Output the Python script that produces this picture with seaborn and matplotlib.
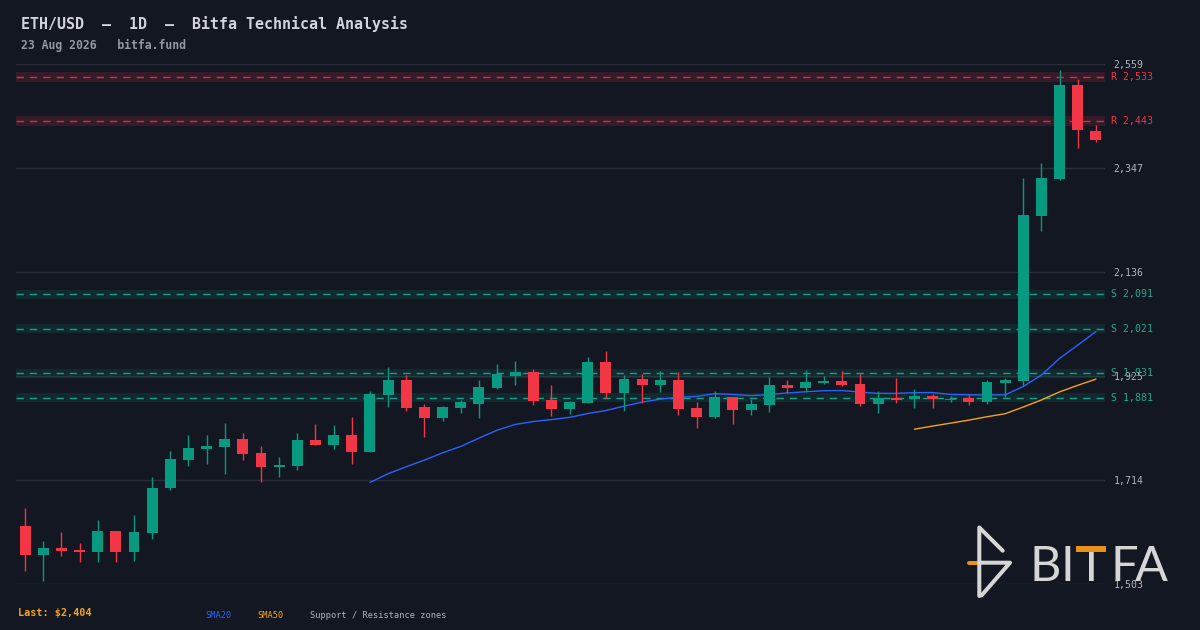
import numpy as np
import pandas as pd
import matplotlib
matplotlib.use("Agg")
import matplotlib.pyplot as plt
from matplotlib.lines import Line2D
from matplotlib.patches import Rectangle
import seaborn as sns

# ---------------- data ----------------
opens = [1621, 1562, 1576, 1572, 1569, 1611, 1569, 1607, 1697, 1755,
         1778, 1782, 1797, 1769, 1741, 1743, 1795, 1786, 1806, 1772,
         1887, 1917, 1862, 1841, 1861, 1869, 1902, 1926, 1934, 1877,
         1859, 1871, 1954, 1890, 1919, 1908, 1917, 1860, 1843, 1883,
         1857, 1867, 1907, 1902, 1911, 1915, 1909, 1869, 1881, 1878,
         1885, 1877, 1881, 1873, 1911, 1916, 2251, 2326, 2516, 2423]
highs = [1657, 1590, 1609, 1586, 1633, 1611, 1643, 1720, 1773, 1806,
         1806, 1830, 1810, 1783, 1761, 1810, 1828, 1826, 1842, 1894,
         1944, 1927, 1868, 1865, 1877, 1917, 1950, 1956, 1940, 1907,
         1875, 1964, 1976, 1927, 1930, 1936, 1934, 1873, 1895, 1883,
         1879, 1923, 1917, 1938, 1925, 1936, 1930, 1895, 1921, 1899,
         1889, 1885, 1889, 1917, 1921, 2328, 2358, 2547, 2529, 2435]
lows = [1530, 1510, 1560, 1548, 1548, 1548, 1550, 1595, 1693, 1743,
        1747, 1727, 1755, 1711, 1720, 1735, 1786, 1778, 1747, 1772,
        1863, 1855, 1802, 1835, 1851, 1841, 1900, 1908, 1867, 1845,
        1849, 1871, 1881, 1855, 1871, 1892, 1847, 1820, 1841, 1827,
        1847, 1853, 1890, 1892, 1909, 1906, 1865, 1851, 1871, 1861,
        1861, 1873, 1867, 1869, 1883, 1905, 2220, 2324, 2389, 2401]
closes = [1562, 1576, 1571, 1568, 1611, 1569, 1609, 1698, 1757, 1779,
          1783, 1797, 1768, 1741, 1745, 1795, 1786, 1806, 1772, 1889,
          1917, 1861, 1841, 1862, 1873, 1903, 1930, 1934, 1875, 1859,
          1873, 1954, 1890, 1919, 1908, 1917, 1859, 1843, 1883, 1857,
          1869, 1907, 1902, 1913, 1915, 1908, 1869, 1881, 1877, 1885,
          1879, 1879, 1873, 1913, 1917, 2252, 2328, 2516, 2424, 2404]

sma20_start = 19
sma20 = [1709.1, 1726.9, 1741.1, 1754.6, 1769.3, 1782.4, 1799.1, 1815.2, 1827.0, 1832.9,
         1836.9, 1841.4, 1849.2, 1855.3, 1864.2, 1872.4, 1878.5, 1882.1, 1884.0, 1889.5,
         1887.9, 1885.5, 1887.8, 1890.9, 1893.4, 1895.5, 1895.8, 1892.7, 1890.1, 1890.2,
         1891.5, 1891.8, 1888.0, 1887.2, 1886.9, 1887.3, 1904.1, 1927.5, 1961.2, 1988.2,
         2015.6]
sma50_start = 49
sma50 = [1817.3, 1823.7, 1829.7, 1835.8, 1842.7, 1848.8, 1862.4, 1876.8, 1893.2, 1906.5,
         1919.0]

resistance = [2533, 2443]
resistance_half = [10.5, 10.0]
support = [2091, 2021, 1931, 1881]
support_half = [9.0, 9.0, 9.0, 9.0]

y_ticks = [1503, 1714.2, 1925.4, 2136.6, 2347.8, 2559]
y_tick_labels = ["1,503", "1,714", "1,925", "2,136", "2,347", "2,559"]

title = "ETH/USD  \u2013  1D  \u2013  Bitfa Technical Analysis"
subtitle = "23 Aug 2026   bitfa.fund"
last_label = "Last: $2,404"
legend_labels = ["SMA20", "SMA50", "Support / Resistance zones"]
logo_letters = ["B", "I", "T", "F", "A"]

# ---------------- styling ----------------
BG = "#131722"
GRID = "#2a2e39"
UP = "#089981"
DOWN = "#f23645"
S_COL = "#22ab94"
BLUE = "#2962ff"
ORANGE = "#f7a21b"
TXT = "#b2b5be"

sns.set_theme(style="dark", rc={
    "axes.facecolor": BG,
    "figure.facecolor": BG,
    "savefig.facecolor": BG,
    "axes.edgecolor": BG,
})
plt.rcParams["font.family"] = ["DejaVu Sans Mono", "DejaVu Sans"]

W, H = 1200, 630
fig = plt.figure(figsize=(12, 6.3), dpi=100)
ax = fig.add_axes([16 / W, 46 / H, 1089 / W, 520 / H])

df = pd.DataFrame({"o": opens, "h": highs, "l": lows, "c": closes})
df["x"] = np.arange(len(df))
df["up"] = df["c"] >= df["o"]
df["col"] = np.where(df["up"], UP, DOWN)
df["bottom"] = df[["o", "c"]].min(axis=1)
df["height"] = (df["c"] - df["o"]).abs().clip(lower=2.0)

ax.set_xlim(-0.5, len(df) - 0.5)
ax.set_ylim(y_ticks[0], y_ticks[-1])

# zones
for p, hw in zip(resistance, resistance_half):
    ax.axhspan(p - hw, p + hw, color=DOWN, alpha=0.15, lw=0, zorder=1)
    ax.axhline(p, color=DOWN, lw=1, dashes=(5.3, 4.3), alpha=0.85, zorder=1.5)
    ax.text(1.0055, p, f"R {p:,}", transform=ax.get_yaxis_transform(),
            color=DOWN, fontsize=7.1, va="center", ha="left", clip_on=False)
for p, hw in zip(support, support_half):
    ax.axhspan(p - hw, p + hw, color=UP, alpha=0.15, lw=0, zorder=1)
    ax.axhline(p, color=S_COL, lw=1, dashes=(5.3, 4.3), alpha=0.9, zorder=1.5)
    ax.text(1.0055, p, f"S {p:,}", transform=ax.get_yaxis_transform(),
            color=S_COL, fontsize=7.1, va="center", ha="left", clip_on=False)

# moving averages
sns.lineplot(x=np.arange(sma20_start, sma20_start + len(sma20)), y=sma20, ax=ax,
             color=BLUE, lw=1.0, zorder=2.5)
sns.lineplot(x=np.arange(sma50_start, sma50_start + len(sma50)), y=sma50, ax=ax,
             color=ORANGE, lw=1.0, zorder=2.5)

# candles
ax.vlines(df["x"], df["l"], df["h"], colors=df["col"], lw=1.0, zorder=3)
ax.bar(df["x"], df["height"], bottom=df["bottom"], width=0.6, color=df["col"],
       linewidth=0, zorder=4)

# axes cosmetics
ax.set_yticks(y_ticks)
ax.set_yticklabels(y_tick_labels)
ax.yaxis.tick_right()
ax.tick_params(axis="y", length=0, pad=6, labelsize=7.1, labelcolor=TXT)
ax.set_xticks([])
ax.grid(False)
ax.yaxis.grid(True, color=GRID, lw=1, zorder=0)
ax.set_axisbelow(True)
for s in ax.spines.values():
    s.set_visible(False)
ax.set_xlabel("")
ax.set_ylabel("")

# header & footer
def fx(px):
    return px / W

def fy(py):
    return 1 - py / H

fig.text(fx(21), fy(24), title, color="#d1d4dc", fontsize=10.8, fontweight="bold",
         va="center", ha="left")
fig.text(fx(21), fy(45), subtitle, color="#9598a1", fontsize=8.3, fontweight="bold",
         va="center", ha="left")
fig.text(fx(18), fy(613), last_label, color=ORANGE, fontsize=7.3, fontweight="bold",
         va="center", ha="left")
for lab, px, col in zip(legend_labels, [205, 257.5, 309.5], [BLUE, ORANGE, TXT]):
    fig.text(fx(px), fy(615), lab, color=col, fontsize=6.2, va="center", ha="left")

# watermark logo
LOGO = "#d6d6d6"
LOGO_OR = "#e8901c"
def fline(pts, color, lw):
    xs = [fx(p[0]) for p in pts]
    ys = [fy(p[1]) for p in pts]
    fig.add_artist(Line2D(xs, ys, color=color, lw=lw, solid_capstyle="round",
                          solid_joinstyle="round", transform=fig.transFigure, zorder=6))

fline([(968.5, 562.7), (977, 562.7)], LOGO_OR, 2.9)
fline([(1002.7, 550.7), (979.3, 527.5), (979.3, 596)], LOGO, 2.9)
fline([(979.3, 562.7), (1010, 562.7), (981.5, 595.5)], LOGO, 2.9)
for letter, cx in zip(logo_letters, [1045, 1067.8, 1090.7, 1124.5, 1151]):
    fig.text(fx(cx), fy(581.3), letter, color=LOGO, fontsize=35,
             family=["Lato", "DejaVu Sans"], fontweight="normal",
             va="baseline", ha="center", zorder=6)
fig.add_artist(Rectangle((fx(1075.7), fy(552.0)), 30 / W, 6 / H,
                         color=LOGO_OR, transform=fig.transFigure, zorder=7, lw=0))

fig.savefig("out.png", dpi=100, facecolor=BG)
